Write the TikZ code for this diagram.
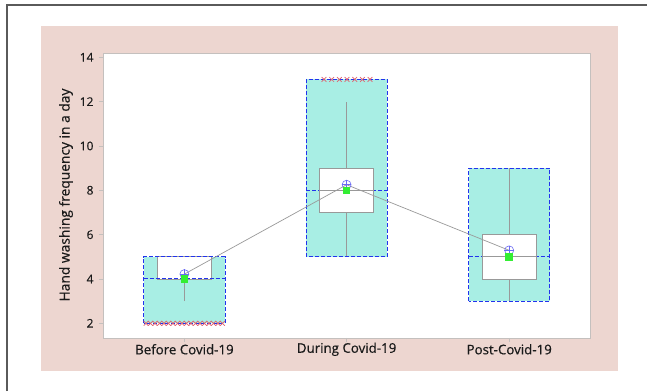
\documentclass[tikz,border=0pt]{standalone}
\usepackage{fontspec}
\setmainfont{Open Sans}
\newfontfamily\labfont{Open Sans}[FakeBold=0.5]
\usetikzlibrary{shapes.misc}

\definecolor{bgpink}{HTML}{EDD6D0}
\definecolor{boxcyan}{HTML}{A8EEE4}
\definecolor{qblue}{HTML}{2233EE}
\definecolor{xred}{HTML}{E0606E}
\definecolor{mgreen}{HTML}{33EE33}
\definecolor{mblue}{HTML}{6A6AF5}
\definecolor{framegray}{HTML}{5A5A5A}
\definecolor{axgray}{HTML}{C4C0BE}
\definecolor{wgray}{HTML}{999999}
\definecolor{txt}{HTML}{1A1A1A}

\begin{document}
\begin{tikzpicture}[x=1pt, y=1pt,
	qline/.style={draw=qblue, line width=1pt, dash pattern=on 4pt off 2pt},
	wbox/.style={fill=white, draw=wgray, line width=0.8pt},
	wline/.style={draw=wgray, line width=0.7pt},
	meanmark/.style={circle, draw=mblue, line width=0.6pt, minimum size=9pt, inner sep=0pt},
	medmark/.style={rectangle, fill=mgreen, minimum size=7.5pt, inner sep=0pt},
	outx/.style={cross out, draw=xred, line width=0.7pt, minimum size=4pt, inner sep=0pt},
	ticklab/.style={anchor=east, font=\labfont\fontsize{12}{12}\selectfont, text=txt},
	grouplab/.style={font=\labfont\fontsize{13.3}{13.3}\selectfont, text=txt}]
	% page and frame
	\fill[white] (0,0) rectangle (647,391);
	\useasboundingbox (0,0) rectangle (647,391);
	\draw[framegray, line width=2pt] (7,0) -- (7,385.5) -- (647,385.5);
	\fill[bgpink] (41,20) rectangle (618,365);
	% plot area
	\filldraw[fill=white, draw=axgray, line width=0.8pt] (103.6,53) rectangle (590,338);
	\node[rotate=90, font=\labfont\fontsize{13.8}{13.8}\selectfont, text=txt] (ytitle) at (66,196) {Hand washing frequency in a day};
	\begin{scope}[shift={(0,23.36)}, y=22.17pt]
		% y ticks
		\foreach \v in {2,4,...,14} {
			\draw[axgray, line width=0.8pt] (98.5,\v) -- (103.6,\v);
			\node[ticklab] (tick\v) at (97,\v) {\v};
		}
		% boxes
		\foreach \n/\cx/\bl/\bm/\bh/\wl/\wh/\lo/\hi/\mn in
			{1/184.4/2/4/5/4/5/3/5/4.22, 2/346.6/5/8/13/7/9/5/12/8.25, 3/509.2/3/5/9/4/6/3/9/5.29} {
			\fill[boxcyan] (\cx-40.6,\bl) rectangle (\cx+40.6,\bh);
			\draw[qline] (\cx-40.6,\bm) -- (\cx+40.6,\bm);
			\draw[wbox] (\cx-27.2,\wl) rectangle (\cx+27.2,\wh);
			\draw[wline] (\cx-27.2,\bm) -- (\cx+27.2,\bm);
			\draw[wline] (\cx,\lo) -- (\cx,\wl);
			\draw[wline] (\cx,\wh) -- (\cx,\hi);
			\draw[qline] (\cx-40.6,\bl) rectangle (\cx+40.6,\bh);
			\draw[axgray, line width=0.8pt] (\cx,1.34) -- (\cx,1.15);
		}
		\draw[qline] (143.8,4) -- (225,4);
		% outliers
		\foreach \k in {0,...,17}
			\node[outx] (outa\k) at ({146+4.5*\k},2) {};
		\foreach \k in {0,...,6}
			\node[outx] (outb\k) at ({324+7.67*\k},13) {};
		% means and medians
		\coordinate (m1) at (184.4,4.22);
		\coordinate (m2) at (346.6,8.25);
		\coordinate (m3) at (509.2,5.29);
		\draw[wgray, line width=0.7pt] (m1) -- (m2) -- (m3);
		\foreach \n/\cx/\mn/\md in {1/184.4/4.22/4, 2/346.6/8.25/8, 3/509.2/5.29/5} {
			\node[meanmark] (mean\n) at (m\n) {};
			\draw[mblue, line width=0.6pt] (mean\n.north) -- (mean\n.south) (mean\n.west) -- (mean\n.east);
			\node[medmark] (med\n) at (\cx,\md) {};
		}
	\end{scope}
	% group labels
	\node[grouplab] (before) at (184.4,41.7) {Before Covid-19};
	\node[grouplab] (during) at (346.6,41.7) {During Covid-19};
	\node[grouplab] (post) at (509.2,41.7) {Post-Covid-19};
\end{tikzpicture}
\end{document}
